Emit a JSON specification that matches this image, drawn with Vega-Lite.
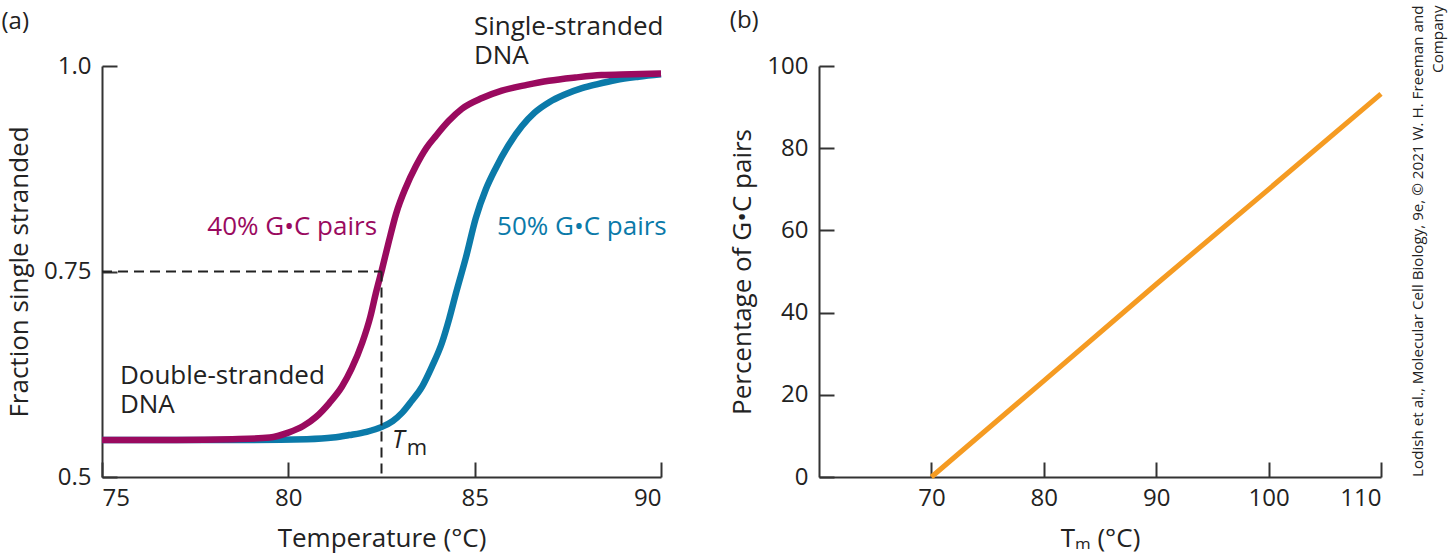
{
  "$schema": "https://vega.github.io/schema/vega-lite/v6.json",
  "background": "white",
  "padding": {"left": 1, "top": 4, "right": 5, "bottom": 5},
  "config": {
    "font": "Open Sans",
    "view": {"stroke": null},
    "axis": {
      "domainColor": "#333333", "domainWidth": 2,
      "tickColor": "#333333", "tickWidth": 2, "tickSize": -15,
      "labelFont": "Open Sans", "labelFontSize": 24, "labelColor": "#222222",
      "titleFont": "Open Sans", "titleFontSize": 26, "titleFontWeight": "normal", "titleColor": "#222222",
      "grid": false
    },
    "title": {"font": "Open Sans", "fontSize": 24, "fontWeight": "normal", "color": "#222222", "anchor": "start"}
  },
  "datasets": {
    "curves": [
      {"series": "50% G•C pairs", "T": 75, "f": 0.545},
      {"series": "50% G•C pairs", "T": 79, "f": 0.545},
      {"series": "50% G•C pairs", "T": 80.5, "f": 0.546},
      {"series": "50% G•C pairs", "T": 81.2, "f": 0.548},
      {"series": "50% G•C pairs", "T": 81.63, "f": 0.551},
      {"series": "50% G•C pairs", "T": 82.1, "f": 0.555},
      {"series": "50% G•C pairs", "T": 82.51, "f": 0.561},
      {"series": "50% G•C pairs", "T": 82.8, "f": 0.568},
      {"series": "50% G•C pairs", "T": 83.05, "f": 0.578},
      {"series": "50% G•C pairs", "T": 83.3, "f": 0.592},
      {"series": "50% G•C pairs", "T": 83.59, "f": 0.61},
      {"series": "50% G•C pairs", "T": 83.85, "f": 0.634},
      {"series": "50% G•C pairs", "T": 84.12, "f": 0.663},
      {"series": "50% G•C pairs", "T": 84.32, "f": 0.693},
      {"series": "50% G•C pairs", "T": 84.5, "f": 0.724},
      {"series": "50% G•C pairs", "T": 84.77, "f": 0.768},
      {"series": "50% G•C pairs", "T": 85.03, "f": 0.815},
      {"series": "50% G•C pairs", "T": 85.3, "f": 0.85},
      {"series": "50% G•C pairs", "T": 85.57, "f": 0.876},
      {"series": "50% G•C pairs", "T": 85.9, "f": 0.903},
      {"series": "50% G•C pairs", "T": 86.27, "f": 0.927},
      {"series": "50% G•C pairs", "T": 86.6, "f": 0.943},
      {"series": "50% G•C pairs", "T": 87.0, "f": 0.956},
      {"series": "50% G•C pairs", "T": 87.4, "f": 0.965},
      {"series": "50% G•C pairs", "T": 87.88, "f": 0.973},
      {"series": "50% G•C pairs", "T": 88.3, "f": 0.978},
      {"series": "50% G•C pairs", "T": 88.79, "f": 0.983},
      {"series": "50% G•C pairs", "T": 89.4, "f": 0.987},
      {"series": "50% G•C pairs", "T": 90, "f": 0.99},
      {"series": "40% G•C pairs", "T": 75, "f": 0.545},
      {"series": "40% G•C pairs", "T": 77, "f": 0.545},
      {"series": "40% G•C pairs", "T": 78.5, "f": 0.546},
      {"series": "40% G•C pairs", "T": 79.5, "f": 0.548},
      {"series": "40% G•C pairs", "T": 80, "f": 0.554},
      {"series": "40% G•C pairs", "T": 80.4, "f": 0.562},
      {"series": "40% G•C pairs", "T": 80.74, "f": 0.573},
      {"series": "40% G•C pairs", "T": 81.1, "f": 0.59},
      {"series": "40% G•C pairs", "T": 81.44, "f": 0.61},
      {"series": "40% G•C pairs", "T": 81.7, "f": 0.632},
      {"series": "40% G•C pairs", "T": 81.98, "f": 0.663},
      {"series": "40% G•C pairs", "T": 82.2, "f": 0.695},
      {"series": "40% G•C pairs", "T": 82.35, "f": 0.724},
      {"series": "40% G•C pairs", "T": 82.51, "f": 0.752},
      {"series": "40% G•C pairs", "T": 82.7, "f": 0.787},
      {"series": "40% G•C pairs", "T": 82.89, "f": 0.82},
      {"series": "40% G•C pairs", "T": 83.15, "f": 0.852},
      {"series": "40% G•C pairs", "T": 83.42, "f": 0.878},
      {"series": "40% G•C pairs", "T": 83.7, "f": 0.9},
      {"series": "40% G•C pairs", "T": 83.96, "f": 0.915},
      {"series": "40% G•C pairs", "T": 84.3, "f": 0.933},
      {"series": "40% G•C pairs", "T": 84.66, "f": 0.948},
      {"series": "40% G•C pairs", "T": 85.2, "f": 0.961},
      {"series": "40% G•C pairs", "T": 85.73, "f": 0.97},
      {"series": "40% G•C pairs", "T": 86.4, "f": 0.977},
      {"series": "40% G•C pairs", "T": 86.99, "f": 0.982},
      {"series": "40% G•C pairs", "T": 87.7, "f": 0.986},
      {"series": "40% G•C pairs", "T": 88.4, "f": 0.989},
      {"series": "40% G•C pairs", "T": 89.2, "f": 0.99},
      {"series": "40% G•C pairs", "T": 90, "f": 0.991}
    ],
    "dashes": [
      {"T": 75, "T2": 82.5, "f": 0.75, "f2": 0.75},
      {"T": 82.5, "T2": 82.5, "f": 0.75, "f2": 0.5}
    ],
    "notesBlack": [
      {"text": "Single-stranded\nDNA", "T": 84.98, "f": 1.038},
      {"text": "Double-stranded\nDNA", "T": 75.48, "f": 0.613}
    ],
    "notes40": [{"text": "40% G•C pairs", "T": 82.38, "f": 0.804}],
    "notes50": [{"text": "50% G•C pairs", "T": 85.6, "f": 0.804}],
    "notesT": [{"text": "T", "T": 82.78, "f": 0.5354}],
    "notesM": [{"text": "m", "T": 83.18, "f": 0.5268}],
    "gc": [
      {"Tm": 70, "pct": 0},
      {"Tm": 80, "pct": 23.4},
      {"Tm": 90, "pct": 46.9},
      {"Tm": 100, "pct": 70.0},
      {"Tm": 110, "pct": 93.2}
    ]
  },
  "bounds": "flush",
  "spacing": 158,
  "hconcat": [
    {
      "title": {"text": "(a)", "frame": "bounds", "anchor": "start", "dx": -5, "dy": 24},
      "width": 559,
      "height": 411,
      "layer": [
        {
          "data": {"name": "curves"},
          "transform": [{"filter": "datum.series === '50% G•C pairs'"}],
          "mark": {"type": "line", "color": "#0b7aa9", "strokeWidth": 6.5, "interpolate": "monotone", "strokeCap": "butt"},
          "encoding": {
            "x": {"field": "T", "type": "quantitative", "scale": {"domain": [75, 90], "nice": false},
                  "axis": {"values": [75, 80, 85, 90], "title": "Temperature (°C)", "labelPadding": 24, "titlePadding": 15}},
            "y": {"field": "f", "type": "quantitative", "scale": {"domain": [0.5, 1], "nice": false, "zero": false},
                  "axis": {"values": [0.5, 0.75, 1], "title": "Fraction single stranded",
                           "labelExpr": "datum.value == 1 ? '1.0' : datum.value == 0.5 ? '0.5' : '0.75'", "labelPadding": 26, "titlePadding": 11}}
          }
        },
        {
          "data": {"name": "curves"},
          "transform": [{"filter": "datum.series === '40% G•C pairs'"}],
          "mark": {"type": "line", "color": "#9a0a5f", "strokeWidth": 6.5, "interpolate": "monotone", "strokeCap": "butt"},
          "encoding": {
            "x": {"field": "T", "type": "quantitative"},
            "y": {"field": "f", "type": "quantitative"}
          }
        },
        {
          "data": {"name": "dashes"},
          "mark": {"type": "rule", "color": "#222222", "strokeWidth": 2, "strokeDash": [10, 6]},
          "encoding": {
            "x": {"field": "T", "type": "quantitative"},
            "x2": {"field": "T2"},
            "y": {"field": "f", "type": "quantitative"},
            "y2": {"field": "f2"}
          }
        },
        {
          "data": {"name": "notesBlack"},
          "mark": {"type": "text", "align": "left", "baseline": "alphabetic", "fontSize": 26, "color": "#222222", "lineBreak": "\n", "lineHeight": 29},
          "encoding": {
            "x": {"field": "T", "type": "quantitative"},
            "y": {"field": "f", "type": "quantitative"},
            "text": {"field": "text"}
          }
        },
        {
          "data": {"name": "notes40"},
          "mark": {"type": "text", "align": "right", "baseline": "middle", "fontSize": 26, "color": "#9a0a5f"},
          "encoding": {
            "x": {"field": "T", "type": "quantitative"},
            "y": {"field": "f", "type": "quantitative"},
            "text": {"field": "text"}
          }
        },
        {
          "data": {"name": "notes50"},
          "mark": {"type": "text", "align": "left", "baseline": "middle", "fontSize": 26, "color": "#0b7aa9"},
          "encoding": {
            "x": {"field": "T", "type": "quantitative"},
            "y": {"field": "f", "type": "quantitative"},
            "text": {"field": "text"}
          }
        },
        {
          "data": {"name": "notesT"},
          "mark": {"type": "text", "align": "left", "baseline": "alphabetic", "fontSize": 25, "fontStyle": "italic", "color": "#222222"},
          "encoding": {
            "x": {"field": "T", "type": "quantitative"},
            "y": {"field": "f", "type": "quantitative"},
            "text": {"field": "text"}
          }
        },
        {
          "data": {"name": "notesM"},
          "mark": {"type": "text", "align": "left", "baseline": "alphabetic", "fontSize": 22, "color": "#222222"},
          "encoding": {
            "x": {"field": "T", "type": "quantitative"},
            "y": {"field": "f", "type": "quantitative"},
            "text": {"field": "text"}
          }
        }
      ]
    },
    {
      "title": {"text": "(b)", "frame": "bounds", "anchor": "start", "dx": 0, "dy": 32},
      "width": 562,
      "height": 411,
      "data": {"name": "gc"},
      "layer": [
        {
          "mark": {"type": "line", "color": "#f59b22", "strokeWidth": 5, "strokeCap": "butt"},
          "encoding": {
            "x": {"field": "Tm", "type": "quantitative", "scale": {"domain": [60, 110], "nice": false, "zero": false},
                  "axis": {"values": [70, 80, 90, 100, 110], "title": "Tₘ (°C)", "labelPadding": 24, "titlePadding": 15}},
            "y": {"field": "pct", "type": "quantitative", "scale": {"domain": [0, 100], "nice": false},
                  "axis": {"values": [0, 20, 40, 60, 80, 100], "title": "Percentage of G•C pairs", "labelPadding": 26, "titlePadding": 11}}
          }
        },
        {
          "mark": {"type": "point", "opacity": 0},
          "encoding": {
            "y": {"field": "pct", "type": "quantitative",
                  "axis": {"orient": "right", "domain": false, "ticks": false, "labels": false,
                           "title": ["Lodish et al., Molecular Cell Biology, 9e, © 2021 W. H. Freeman and", "Company"],
                           "titleFontSize": 15.2, "titleLineHeight": 20, "titleAngle": 270,
                           "titleAlign": "right", "titleBaseline": "top", "titleX": 29, "titleY": -61}}
          }
        }
      ],
      "resolve": {"axis": {"y": "independent"}}
    }
  ]
}
